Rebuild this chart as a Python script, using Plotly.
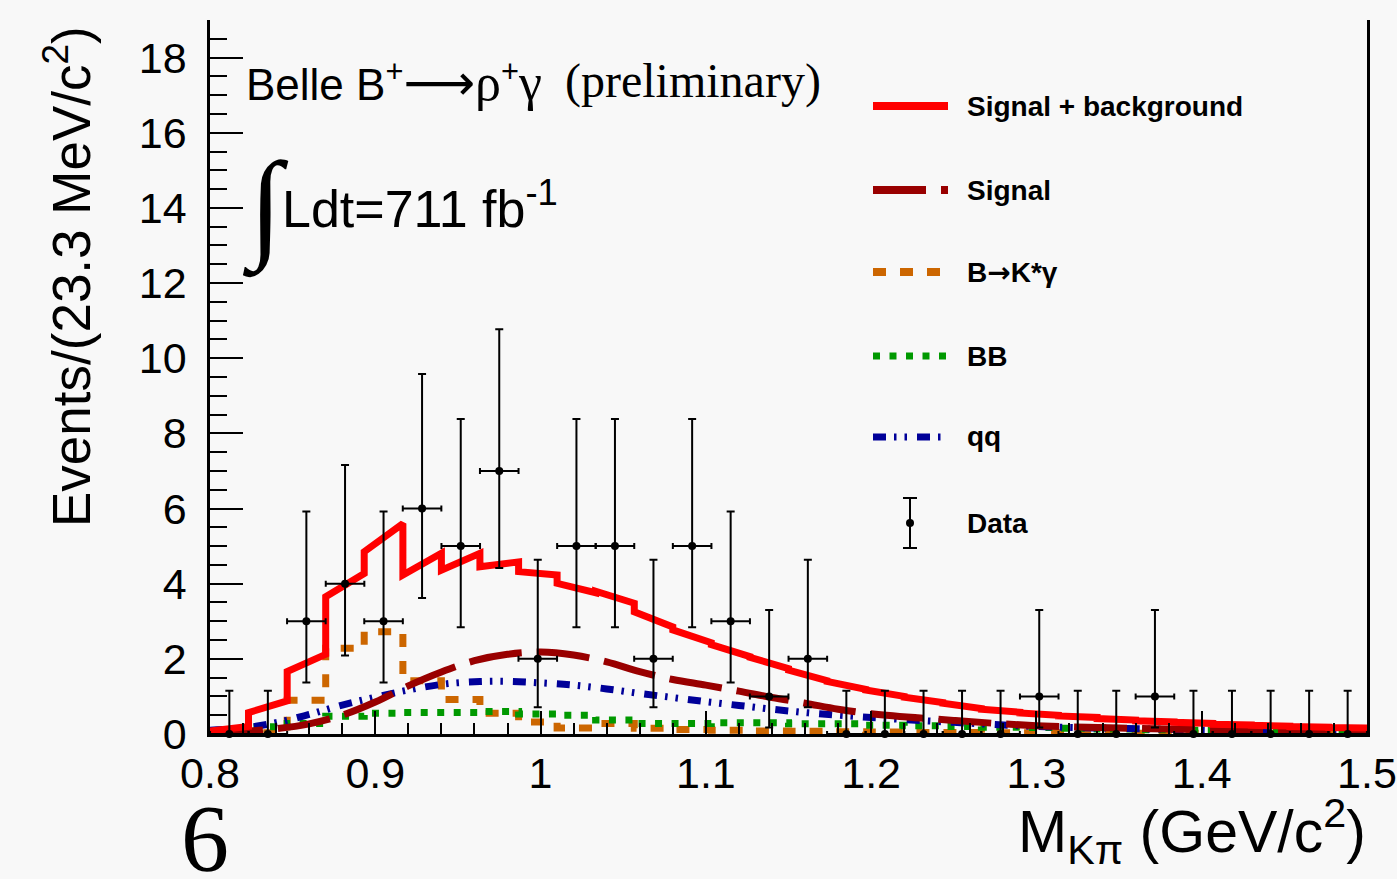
import plotly.graph_objects as go

# ---------------- data ----------------
bin_edges = [0.8, 0.8233, 0.8467, 0.87, 0.8933, 0.9167, 0.94, 0.9633, 0.9867, 1.01,
             1.0333, 1.0567, 1.08, 1.1033, 1.1267, 1.15, 1.1733, 1.1967, 1.22, 1.2433,
             1.2667, 1.29, 1.3133, 1.3367, 1.36, 1.3833, 1.4067, 1.43, 1.4533, 1.4767, 1.5]
bin_centers = [0.8117, 0.835, 0.8583, 0.8817, 0.905, 0.9283, 0.9517, 0.975, 0.9983, 1.0217,
               1.045, 1.0683, 1.0917, 1.115, 1.1383, 1.1617, 1.185, 1.2083, 1.2317, 1.255,
               1.2783, 1.3017, 1.325, 1.3483, 1.3717, 1.395, 1.4183, 1.4417, 1.465, 1.4883]
half_bin = [0.01167] * 30

data_counts = [0, 0, 3, 4, 3, 6, 5, 7, 2, 5, 5, 2, 5, 3, 1, 2, 0, 0, 0, 0,
               0, 1, 0, 0, 1, 0, 0, 0, 0, 0]
err_up = [1.15, 1.15, 2.92, 3.16, 2.92, 3.58, 3.38, 3.77, 2.64, 3.38, 3.38, 2.64, 3.38, 2.92, 2.30,
          2.64, 1.15, 1.15, 1.15, 1.15, 1.15, 2.30, 1.15, 1.15, 2.30, 1.15, 1.15, 1.15, 1.15, 1.15]
err_down = [0, 0, 1.63, 1.91, 1.63, 2.38, 2.16, 2.58, 1.29, 2.16, 2.16, 1.29, 2.16, 1.63, 0.83,
            1.29, 0, 0, 0, 0, 0, 0.83, 0, 0, 0.83, 0, 0, 0, 0, 0]

# total fit (signal + background): value at start / end of each bin
total_start = [0.08, 0.57, 1.66, 3.65, 4.85, 4.23, 4.36, 4.45, 4.32, 4.01,
               3.80, 3.25, 2.77, 2.38, 2.04, 1.70, 1.40, 1.17, 0.98, 0.82,
               0.66, 0.56, 0.48, 0.41, 0.35, 0.31, 0.26, 0.23, 0.20, 0.17]
total_end = [0.20, 0.88, 2.12, 4.27, 5.60, 4.81, 4.81, 4.58, 4.23, 3.76,
             3.48, 2.85, 2.43, 2.06, 1.74, 1.42, 1.19, 1.00, 0.84, 0.68,
             0.58, 0.50, 0.44, 0.37, 0.32, 0.28, 0.24, 0.21, 0.18, 0.16]

curve_x = [0.80, 0.82, 0.84, 0.86, 0.88, 0.90, 0.92, 0.94, 0.96, 0.98, 1.00, 1.02, 1.04,
           1.06, 1.08, 1.10, 1.12, 1.14, 1.16, 1.18, 1.20, 1.25, 1.30, 1.35, 1.40, 1.45, 1.50]
signal_y = [0.03, 0.07, 0.14, 0.27, 0.50, 0.85, 1.28, 1.65, 1.95, 2.12, 2.18, 2.10, 1.92,
            1.66, 1.45, 1.30, 1.14, 0.97, 0.82, 0.66, 0.54, 0.36, 0.22, 0.16, 0.12, 0.09, 0.07]
qq_y = [0.10, 0.16, 0.30, 0.52, 0.77, 0.98, 1.17, 1.32, 1.39, 1.40, 1.36, 1.30, 1.20,
        1.08, 0.97, 0.86, 0.76, 0.66, 0.57, 0.50, 0.44, 0.31, 0.20, 0.15, 0.11, 0.08, 0.06]

bb_y = [0.03, 0.19, 0.28, 0.47, 0.55, 0.57, 0.57, 0.60, 0.53, 0.50,
        0.37, 0.28, 0.28, 0.30, 0.30, 0.27, 0.27, 0.23, 0.22, 0.20,
        0.18, 0.17, 0.15, 0.13, 0.11, 0.10, 0.09, 0.08, 0.07, 0.07]
kstar_y = [0.01, 0.03, 0.90, 2.28, 2.72, 1.42, 0.92, 0.55, 0.32, 0.16,
           0.28, 0.15, 0.12, 0.10, 0.08, 0.07, 0.06, 0.05, 0.04, 0.04,
           0.03, 0.03, 0.03, 0.02, 0.02, 0.02, 0.02, 0.02, 0.02, 0.02]

ARROW = '<span style="font-family:DejaVu Sans">\u2192</span>'
legend_labels = ["Signal + background", "Signal", "B" + ARROW + "K*\u03b3", "BB", "qq", "Data"]

# ---------------- style ----------------
FIG_W, FIG_H = 1397, 879
ML, MR, MT, MB = 210, 30, 20, 145
PW, PH = FIG_W - ML - MR, FIG_H - MT - MB
SANS = "Liberation Sans, Arial, Helvetica, sans-serif"
SERIF = "Liberation Serif, Times New Roman, serif"
BG = "#f8f8f8"

RED = "#ff0000"
DARKRED = "#990000"
ORANGE = "#cc6600"
GREEN = "#009900"
BLUE = "#000099"

DASH_SIG = "53px,15px"
DASH_KST = "13px,14px"
DASH_BB = "7px,9.5px"
DASH_QQ = "13px,8px,2.5px,8px,2.5px,10px"


def px_x(px):
    return (px - ML) / PW


def px_y(py):
    return (FIG_H - MB - py) / PH


fig = go.Figure()

# step-histogram components
fig.add_trace(go.Scatter(x=bin_edges, y=kstar_y + [kstar_y[-1]], mode="lines", line_shape="hv",
                         line=dict(color=ORANGE, width=7, dash=DASH_KST), showlegend=False))
fig.add_trace(go.Scatter(x=bin_edges, y=bb_y + [bb_y[-1]], mode="lines", line_shape="hv",
                         line=dict(color=GREEN, width=7, dash=DASH_BB), showlegend=False))
fig.add_trace(go.Scatter(x=curve_x, y=qq_y, mode="lines", line_shape="spline",
                         line=dict(color=BLUE, width=7, dash=DASH_QQ), showlegend=False))
fig.add_trace(go.Scatter(x=curve_x, y=signal_y, mode="lines", line_shape="spline",
                         line=dict(color=DARKRED, width=7, dash=DASH_SIG), showlegend=False))

tot_x, tot_y = [], []
for i in range(len(total_start)):
    tot_x += [bin_edges[i], bin_edges[i + 1]]
    tot_y += [total_start[i], total_end[i]]
fig.add_trace(go.Scatter(x=tot_x, y=tot_y, mode="lines",
                         line=dict(color=RED, width=7), showlegend=False))

# data
fig.add_trace(go.Scatter(
    x=bin_centers, y=data_counts, mode="markers",
    marker=dict(color="black", size=8),
    error_y=dict(type="data", array=err_up, arrayminus=err_down, symmetric=False,
                 color="black", thickness=2, width=4),
    error_x=dict(type="data", array=half_bin, color="black", thickness=2, width=3),
    cliponaxis=False, showlegend=False))

# ---------------- axes ----------------
fig.update_xaxes(range=[0.8, 1.5], tick0=0.8, dtick=0.1, ticks="inside", ticklen=23,
                 tickwidth=2, tickcolor="black", showline=True, linewidth=2.5, linecolor="black",
                 showgrid=False, zeroline=False, automargin=False,
                 tickfont=dict(family=SANS, size=43, color="black"), ticklabelstandoff=0,
                 minor=dict(dtick=0.02, ticks="inside", ticklen=11, tickwidth=2, tickcolor="black",
                            showgrid=False))
fig.update_yaxes(range=[0, 19], tick0=0, dtick=2, ticks="inside", ticklen=33,
                 tickwidth=2, tickcolor="black", showline=True, linewidth=2.5, linecolor="black",
                 mirror=True, showgrid=False, zeroline=False, automargin=False,
                 tickfont=dict(family=SANS, size=43, color="black"), ticklabelstandoff=12,
                 minor=dict(dtick=0.5, ticks="inside", ticklen=17, tickwidth=2, tickcolor="black",
                            showgrid=False))

# ---------------- legend (drawn manually) ----------------
leg_x0, leg_x1, leg_text_x = 873, 948, 965
leg_rows = [106, 190, 272, 356, 437, 523]
leg_styles = [
    dict(color=RED, width=8, dash="solid"),
    dict(color=DARKRED, width=8, dash=DASH_SIG),
    dict(color=ORANGE, width=8, dash=DASH_KST),
    dict(color=GREEN, width=7, dash=DASH_BB),
    dict(color=BLUE, width=7, dash=DASH_QQ),
]
for row, st in zip(leg_rows[:5], leg_styles):
    fig.add_shape(type="line", xref="paper", yref="paper",
                  x0=px_x(leg_x0), x1=px_x(leg_x1), y0=px_y(row), y1=px_y(row), line=st)
# data legend symbol
dcx, dcy = 910, leg_rows[5]
fig.add_shape(type="line", xref="paper", yref="paper", x0=px_x(dcx), x1=px_x(dcx),
              y0=px_y(dcy - 25), y1=px_y(dcy + 25), line=dict(color="black", width=2))
for yy in (dcy - 25, dcy + 25):
    fig.add_shape(type="line", xref="paper", yref="paper", x0=px_x(dcx - 7), x1=px_x(dcx + 7),
                  y0=px_y(yy), y1=px_y(yy), line=dict(color="black", width=2))
fig.add_shape(type="circle", xref="paper", yref="paper", x0=px_x(dcx - 4), x1=px_x(dcx + 4),
              y0=px_y(dcy - 4), y1=px_y(dcy + 4), fillcolor="black", line=dict(color="black", width=0))

for row, lab in zip(leg_rows, legend_labels):
    fig.add_annotation(x=px_x(leg_text_x), y=px_y(row), xref="paper", yref="paper",
                       text="<b>%s</b>" % lab, showarrow=False, xanchor="left", yanchor="middle",
                       font=dict(family=SANS, size=28, color="black"))

# ---------------- texts ----------------
fig.add_annotation(x=px_x(244), y=px_y(83), xref="paper", yref="paper",
                   text=("Belle B<sup>+</sup>"
                         '<span style="font-family:DejaVu Sans;font-size:50px">\u27f6</span>'
                         '<span style="font-family:Liberation Serif;font-size:52px">\u03c1</span>'
                         "<sup>+</sup>"
                         '<span style="font-family:Liberation Serif;font-size:52px">\u03b3</span>'),
                   showarrow=False,
                   xanchor="left", yanchor="middle", font=dict(family=SANS, size=44, color="black"))
fig.add_annotation(x=px_x(563), y=px_y(81), xref="paper", yref="paper",
                   text="(preliminary)", showarrow=False,
                   xanchor="left", yanchor="middle", font=dict(family=SERIF, size=48, color="black"))
fig.add_annotation(x=px_x(240), y=px_y(208), xref="paper", yref="paper",
                   text="\u222b", showarrow=False,
                   xanchor="left", yanchor="middle", font=dict(family=SERIF, size=120, color="black"))
fig.add_annotation(x=px_x(280), y=px_y(205), xref="paper", yref="paper",
                   text="Ldt=711 fb<sup>-1</sup>", showarrow=False,
                   xanchor="left", yanchor="middle", font=dict(family=SANS, size=52, color="black"))

fig.add_annotation(x=px_x(67), y=px_y(277), xref="paper", yref="paper",
                   text="Events/(23.3 MeV/c<sup>2</sup>)", showarrow=False, textangle=-90,
                   xanchor="center", yanchor="middle", font=dict(family=SANS, size=53, color="black"))
fig.add_annotation(x=px_x(1368), y=px_y(831), xref="paper", yref="paper",
                   text="M<sub>K\u03c0</sub> (GeV/c<sup>2</sup>)", showarrow=False,
                   xanchor="right", yanchor="middle", font=dict(family=SANS, size=59, color="black"))
fig.add_annotation(x=px_x(205), y=px_y(838), xref="paper", yref="paper",
                   text="6", showarrow=False,
                   xanchor="center", yanchor="middle", font=dict(family=SERIF, size=96, color="black"))

fig.update_layout(width=FIG_W, height=FIG_H, margin=dict(l=ML, r=MR, t=MT, b=MB),
                  paper_bgcolor=BG, plot_bgcolor=BG, showlegend=False)

fig.write_html("out.html")
